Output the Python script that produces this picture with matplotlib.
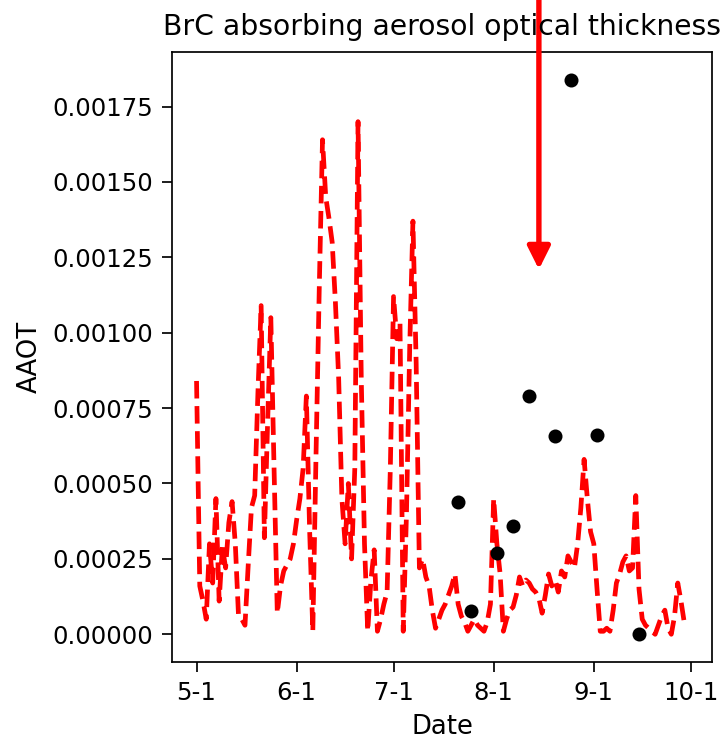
import matplotlib
matplotlib.use('Agg')
import matplotlib.pyplot as plt
import matplotlib.dates as mdates
from matplotlib.ticker import FuncFormatter
import numpy as np
import pandas as pd

# daily BrC AAOT, May 1 .. Sep 30 (units of 1e-4)
start_date = '2018-05-01'
aaot_daily = [
    8.4, 1.6, 1.1, 0.5, 3.0, 1.7, 4.5, 1.1, 2.9, 2.2,
    3.7, 4.4, 3.0, 0.6, 0.5, 0.3, 2.3, 4.2, 4.6, 8.0,
    10.9, 3.2, 7.0, 10.5, 5.5, 0.7, 1.6, 2.1, 2.3, 2.5,
    3.0, 3.8, 4.5, 5.5, 7.9, 3.5, 0.1, 6.0, 11.5, 16.4,
    14.5, 13.8, 13.0, 11.0, 8.5, 4.5, 3.0, 5.0, 2.5, 5.5,
    17.0, 8.5, 3.0, 0.1, 1.8, 2.8, 0.1, 0.5, 1.0, 1.4,
    5.5, 11.2, 9.8, 10.3, 0.1, 4.0, 9.5, 13.7, 9.0, 2.2,
    2.5, 1.9, 1.6, 0.8, 0.2, 0.5, 0.8, 1.0, 1.3, 1.6,
    2.0, 1.0, 0.6, 0.4, 0.1, 0.3, 0.5, 0.3, 0.2, 0.1,
    0.4, 1.0, 4.5, 3.0, 2.0, 0.1, 0.5, 0.8, 0.9, 1.3,
    1.9, 1.6, 1.8, 1.7, 1.5, 1.4, 1.2, 0.7, 1.3, 2.0,
    1.6, 1.8, 1.4, 2.1, 1.9, 2.6, 2.4, 2.2, 3.0, 4.2,
    5.8, 4.5, 3.4, 3.0, 1.5, 0.1, 0.1, 0.2, 0.1, 0.8,
    1.7, 2.0, 2.4, 2.6, 2.1, 2.2, 4.6, 1.5, 0.5, 0.3,
    0.2, 0.1, 0.0, 0.3, 0.6, 0.8, 0.2, 0.0, 0.6, 1.7,
    1.1, 0.4, 0.4,
]

# observations (black dots)
obs_dates = ['2018-07-21', '2018-07-25', '2018-08-02', '2018-08-07',
             '2018-08-12', '2018-08-20', '2018-08-25', '2018-09-02',
             '2018-09-15']
obs_aaot = [0.00044, 0.000077, 0.00027, 0.000358, 0.000789,
            0.000659, 0.001839, 0.000662, 0.0]

arrow_date = '2018-08-15'
arrow_value = 0.00121

DPI = 155
fig = plt.figure(figsize=(724 / DPI, 743 / DPI), dpi=DPI)
ax = fig.add_axes([172 / 724, 1 - 662 / 743, 540 / 724, 610 / 743])

dates = pd.date_range(start_date, periods=len(aaot_daily), freq='D')
ax.plot(dates, np.array(aaot_daily) * 1e-4, 'r--', linewidth=2.2)
ax.plot(pd.to_datetime(obs_dates), obs_aaot, 'ko', markersize=5.5)

ax.xaxis.set_major_locator(mdates.MonthLocator())
ax.xaxis.set_major_formatter(
    FuncFormatter(lambda v, pos: '%d-%d' % (mdates.num2date(v).month,
                                            mdates.num2date(v).day)))
ax.tick_params(labelsize=11.3, length=4.5, pad=4.5)

ax.set_title('BrC absorbing aerosol optical thickness', fontsize=13.1, pad=8)
ax.set_xlabel('Date', fontsize=12)
ax.set_ylabel('AAOT', fontsize=12)

# red arrow coming down from the top edge
ax.annotate('', xy=(pd.Timestamp(arrow_date), arrow_value),
            xytext=(pd.Timestamp(arrow_date), 1.0),
            xycoords='data', textcoords=('data', 'figure fraction'),
            arrowprops=dict(arrowstyle='-|>', color='red', lw=2.5,
                            mutation_scale=22, shrinkA=0, shrinkB=0),
            annotation_clip=False)

fig.savefig('out.png', dpi=DPI)
